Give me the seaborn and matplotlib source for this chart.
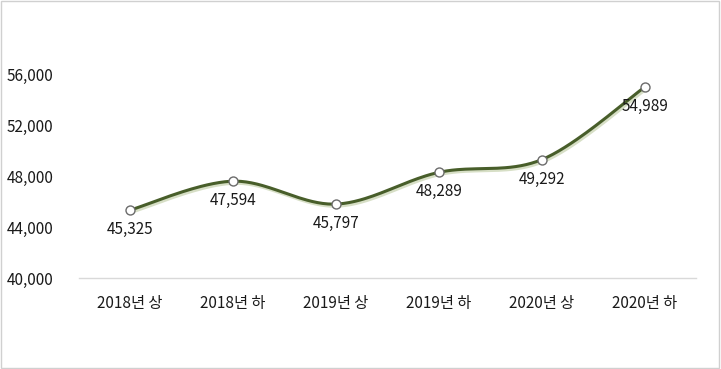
import numpy as np
import pandas as pd
import seaborn as sns
from matplotlib import pyplot as plt
from matplotlib import patheffects as pe
from matplotlib.patches import Rectangle

# data
periods = ["2018년 상", "2018년 하", "2019년 상", "2019년 하", "2020년 상", "2020년 하"]
values = [45325, 47594, 45797, 48289, 49292, 54989]

sns.set_theme(style="white")
plt.rcParams['font.family'] = ['Noto Sans CJK KR', 'DejaVu Sans']

df = pd.DataFrame({"period": periods, "value": values})

fig = plt.figure(figsize=(7.21, 3.69), dpi=100)
ax = fig.add_axes([78.5 / 721, 1 - 278 / 369, 618 / 721, 255 / 369])

# smooth curve like Excel (Catmull-Rom through the points)
x = np.arange(len(values), dtype=float)
y = np.array(values, dtype=float)
xs, ys = [], []
for i in range(len(x) - 1):
    p0 = np.array([x[max(i - 1, 0)], y[max(i - 1, 0)]])
    p1 = np.array([x[i], y[i]])
    p2 = np.array([x[i + 1], y[i + 1]])
    p3 = np.array([x[min(i + 2, len(x) - 1)], y[min(i + 2, len(x) - 1)]])
    c1 = p1 + (p2 - p0) / 6
    c2 = p2 - (p3 - p1) / 6
    t = np.linspace(0, 1, 40)[:, None]
    seg = (1 - t) ** 3 * p1 + 3 * (1 - t) ** 2 * t * c1 + 3 * (1 - t) * t ** 2 * c2 + t ** 3 * p2
    xs.extend(seg[:, 0])
    ys.extend(seg[:, 1])

curve = pd.DataFrame({"x": xs, "y": ys})
sns.lineplot(data=curve, x="x", y="y", ax=ax, color="#485e2a", linewidth=2.2,
             sort=False,
             path_effects=[pe.SimpleLineShadow(offset=(1, -1.5), shadow_color="#d3dcc0", alpha=0.9),
                           pe.Normal()])
sns.scatterplot(x=x, y=values, ax=ax, s=42, color="white", edgecolor="#6b6b6b",
                linewidth=1, zorder=5)

for xi, v in zip(x, values):
    ax.annotate(f"{v:,}", (xi, v), xytext=(0, -14), textcoords="offset points",
                ha="center", va="center", fontsize=11, color="#1a1a1a")

ax.set_xlim(-0.5, len(values) - 0.5)
ax.set_ylim(40000, 60000)
ax.set_xticks(x)
ax.set_xticklabels(periods, fontsize=11, color="#1a1a1a")
ax.set_yticks([40000, 44000, 48000, 52000, 56000])
ax.set_yticklabels([f"{t:,}" for t in [40000, 44000, 48000, 52000, 56000]],
                   fontsize=11, color="#1a1a1a")
ax.tick_params(axis="x", pad=12, length=0)
ax.tick_params(axis="y", pad=18, length=0)
ax.set_xlabel("")
ax.set_ylabel("")
for s in ["top", "right", "left"]:
    ax.spines[s].set_visible(False)
ax.spines["bottom"].set_color("#d9d9d9")
ax.spines["bottom"].set_linewidth(1)

# light border around the chart area
fig.patches.append(Rectangle((0.002, 0.003), 0.995, 0.993, transform=fig.transFigure,
                             fill=False, edgecolor="#d0d0d0", linewidth=1))

fig.savefig("out.png", dpi=100)
